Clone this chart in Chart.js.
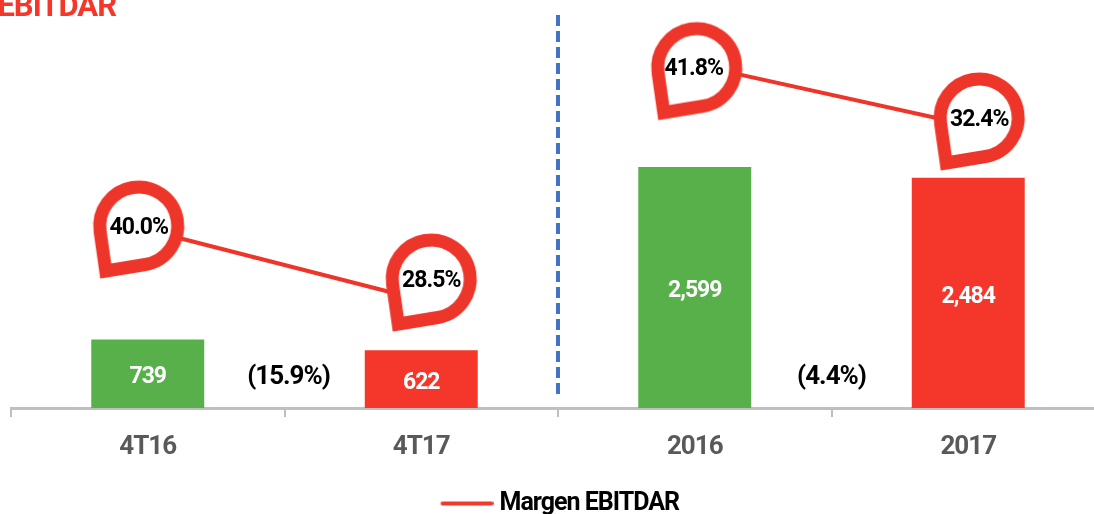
<!DOCTYPE html>
<html>
<head>
<meta charset="utf-8">
<script src="https://cdn.jsdelivr.net/npm/chart.js@4"></script>
<style>
html, body { margin: 0; padding: 0; background: #fff; overflow: hidden; width: 1094px; height: 514px; }
canvas { display: block; }
</style>
</head>
<body>
<canvas id="chart_1" width="1110" height="530"></canvas>
<script>
// data
const categories = ['4T16', '4T17', '2016', '2017'];
const barValues = [739, 622, 2599, 2484];
const barLabels = ['739', '622', '2,599', '2,484'];
const marginQuarter = [40.0, 28.5, null, null];
const marginYear = [null, null, 41.8, 32.4];
const marginLabels = ['40.0%', '28.5%', '41.8%', '32.4%'];
const changeLabels = ['(15.9%)', '(4.4%)'];
const heading = 'EBITDAR';
const legendLabel = 'Margen EBITDAR';

const FONT = "Roboto, sans-serif";
const RED = '#F4372A';
const PIN_RED = '#EE352A';
const GREEN = '#57B04A';
const AXIS = '#BFBFBF';
const barColors = [GREEN, RED, GREEN, RED];

// where each pin sits relative to its point
const pinOffsets = [[-9, -4], [10, -21], [2, 3], [11, -7]];

function makePin(ox, oy) {
    let c = document.createElement('canvas');
    c.width = 150;
    c.height = 150;
    let ctx = c.getContext('2d');
    let cx = 75 + ox, cy = 75 + oy, r = 39;
    let tipX = -33, tipY = 45;
    let dist = Math.hypot(tipX, tipY);
    let theta = Math.atan2(tipY, tipX);
    let spread = Math.acos(r / dist);
    ctx.beginPath();
    ctx.moveTo(cx + tipX, cy + tipY);
    ctx.arc(cx, cy, r, theta - spread, theta + spread, true);
    ctx.closePath();
    ctx.fillStyle = '#fff';
    ctx.fill();
    ctx.lineWidth = 13;
    ctx.lineJoin = 'miter';
    ctx.miterLimit = 6;
    ctx.strokeStyle = PIN_RED;
    ctx.stroke();
    return c;
}

function makeLegendLine() {
    // image is centred on a 47px box, so the stroke is pushed to the right of it
    let c = document.createElement('canvas');
    c.width = 60;
    c.height = 6;
    let ctx = c.getContext('2d');
    ctx.strokeStyle = RED;
    ctx.lineWidth = 4;
    ctx.lineCap = 'round';
    ctx.beginPath();
    ctx.moveTo(9, 3);
    ctx.lineTo(58, 3);
    ctx.stroke();
    return c;
}

const pins = pinOffsets.map(o => makePin(o[0], o[1]));

const extras = {
    id: 'extras',
    beforeDraw(chart) {
        // Roboto is wider than the original face, tighten everything
        chart.ctx.letterSpacing = '-1px';
    },
    afterLayout(chart) {
        chart.legend.left += 17;
    },
    afterDatasetsDraw(chart) {
        let ctx = chart.ctx;
        let x = chart.scales.x;
        let bars = chart.getDatasetMeta(2).data;
        ctx.save();
        ctx.textAlign = 'center';
        ctx.textBaseline = 'middle';

        // bar values
        ctx.fillStyle = '#fff';
        ctx.font = 'bold 23px ' + FONT;
        bars.forEach((b, i) => {
            ctx.fillText(barLabels[i], b.x, (b.y + b.base) / 2 + 4);
        });

        // margin values inside the pins
        ctx.fillStyle = '#000';
        [0, 1].forEach(d => {
            chart.getDatasetMeta(d).data.forEach((p, i) => {
                if ((d === 0 ? marginQuarter : marginYear)[i] !== null) {
                    let nudge = i === 2 ? -3 : 0;
                    ctx.fillText(marginLabels[i], p.x + pinOffsets[i][0] + nudge, p.y + pinOffsets[i][1] + 2);
                }
            });
        });

        // change between the two bars
        ctx.font = 'bold 26px ' + FONT;
        ctx.fillText(changeLabels[0], (x.getPixelForValue(0) + x.getPixelForValue(1)) / 2 + 4, 377);
        ctx.fillText(changeLabels[1], (x.getPixelForValue(2) + x.getPixelForValue(3)) / 2, 377);

        // divider between quarter and year
        let mid = (x.getPixelForValue(1) + x.getPixelForValue(2)) / 2;
        ctx.strokeStyle = '#4472C4';
        ctx.lineWidth = 4;
        ctx.setLineDash([11, 5]);
        ctx.beginPath();
        ctx.moveTo(mid, 15);
        ctx.lineTo(mid, 395);
        ctx.stroke();
        ctx.setLineDash([]);

        // heading, cut by the top left corner
        ctx.textAlign = 'right';
        ctx.textBaseline = 'alphabetic';
        ctx.fillStyle = RED;
        ctx.font = 'bold 31px ' + FONT;
        ctx.fillText(heading, 116, 16);
        ctx.restore();
    }
};

new Chart('chart_1', {
    type: 'bar',
    data: {
        labels: categories,
        datasets: [
            {
                type: 'line', label: legendLabel, data: marginQuarter, yAxisID: 'yQuarter',
                borderColor: PIN_RED, borderWidth: 4, pointRadius: 10,
                pointStyle: c => pins[c.dataIndex], order: 1,
            },
            {
                type: 'line', label: legendLabel, data: marginYear, yAxisID: 'yYear',
                borderColor: PIN_RED, borderWidth: 4, pointRadius: 10,
                pointStyle: c => pins[c.dataIndex], order: 1,
            },
            {
                label: 'EBITDAR', data: barValues, yAxisID: 'y', backgroundColor: barColors,
                barPercentage: 1, categoryPercentage: 0.413, order: 2,
            },
        ],
    },
    options: {
        responsive: false,
        animation: { duration: 0 },
        layout: { autoPadding: false, padding: { left: 11, right: 5, top: 0, bottom: 4 } },
        plugins: {
            title: { display: false },
            tooltip: { enabled: false },
            legend: {
                position: 'bottom',
                labels: {
                    filter: (item) => item.datasetIndex === 0,
                    usePointStyle: true,
                    pointStyle: makeLegendLine(),
                    pointStyleWidth: 47,
                    boxHeight: 23,
                    padding: 5,
                    color: '#000',
                    font: { family: FONT, size: 25, weight: 'bold' },
                },
            },
        },
        scales: {
            x: {
                afterFit(scale) { scale.height = 78; },
                grid: { drawOnChartArea: false, drawTicks: true, tickLength: 9, color: AXIS, lineWidth: 2 },
                border: { display: true, color: AXIS, width: 3 },
                ticks: { color: '#595959', padding: 15, font: { family: FONT, size: 26, weight: 'bold' } },
            },
            y: { display: false, min: 0, max: 4401 },
            yQuarter: { display: false, min: 10.76, max: 77.8 },
            yYear: { display: false, min: -11.64, max: 51.85 },
        },
    },
    plugins: [extras],
});
</script>
</body>
</html>
